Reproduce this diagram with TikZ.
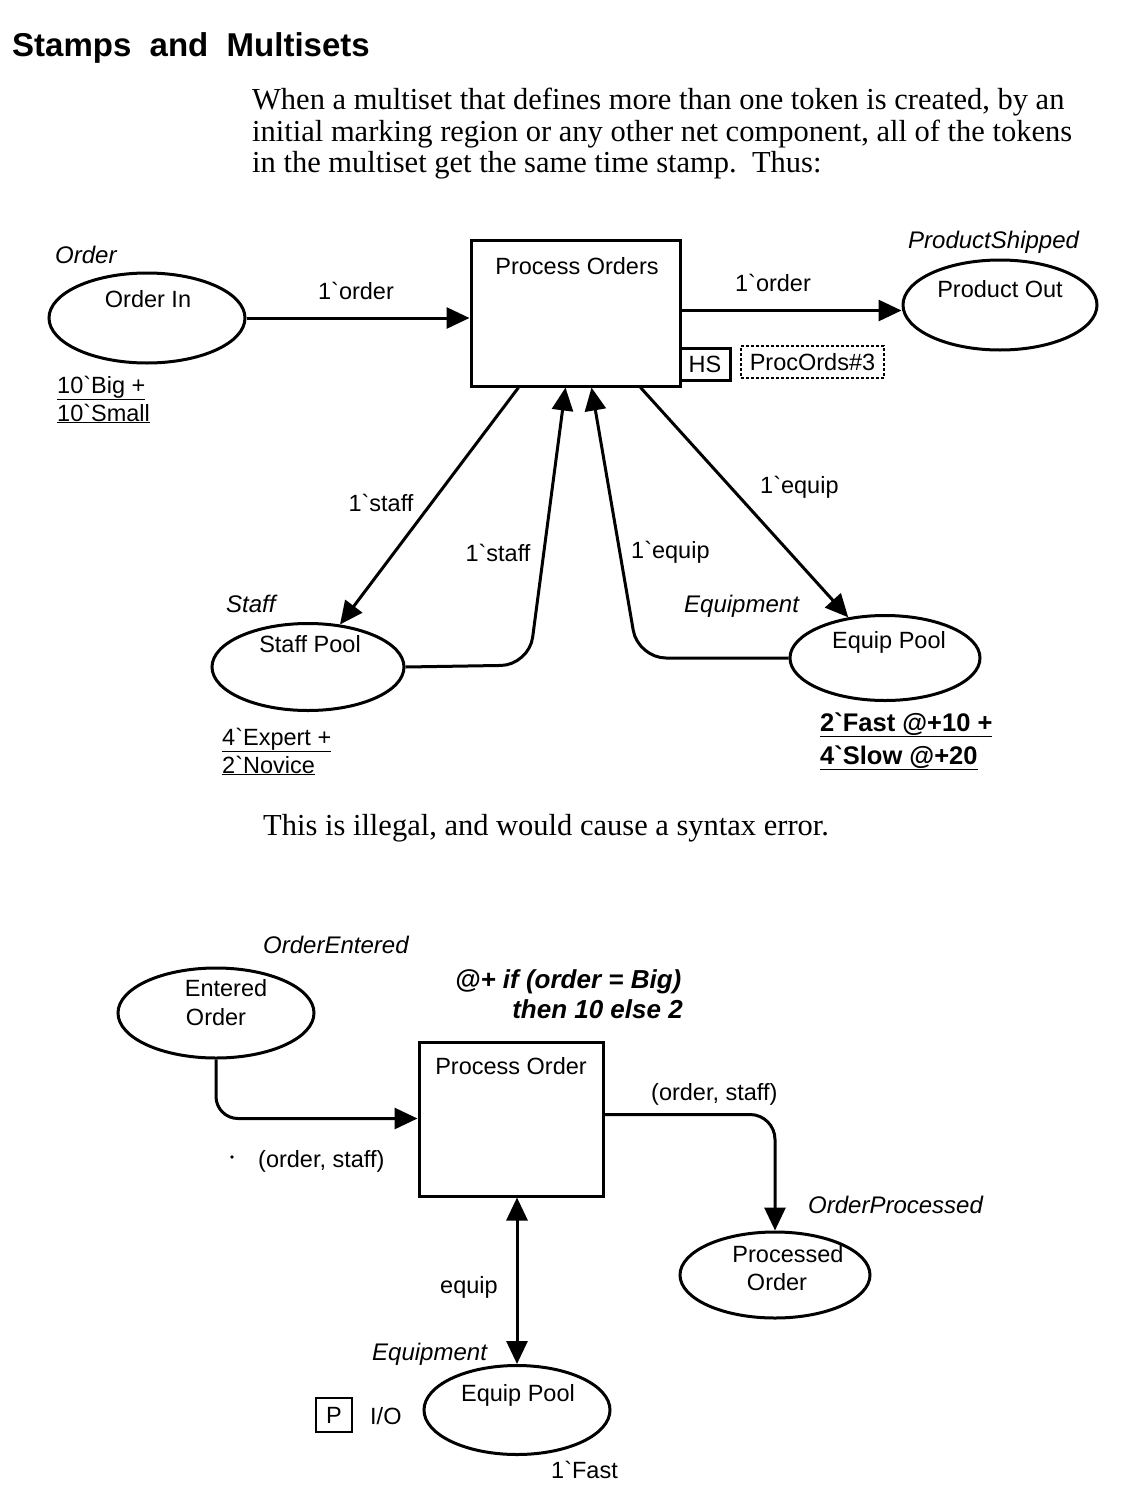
\documentclass[tikz,border=0pt]{standalone}
\usepackage{fontspec}
\setmainfont{Liberation Sans}
\newfontfamily\parafont{Liberation Serif}
\usetikzlibrary{arrows.meta,shapes.geometric,calc}
\newcommand{\bq}{\textasciigrave}
\begin{document}
\begin{tikzpicture}[x=1pt,y=1pt,
  lw/.style={line width=3pt},
  place/.style={draw,lw,ellipse,inner sep=0pt},
  trans/.style={draw,lw,rectangle,inner sep=0pt},
  tx/.style={inner sep=0pt,font=\fontsize{23.5}{28}\selectfont},
  itx/.style={inner sep=0pt,font=\itshape\fontsize{24}{28}\selectfont},
  btx/.style={inner sep=0pt,font=\bfseries\fontsize{25.5}{30}\selectfont},
  bitx/.style={inner sep=0pt,font=\bfseries\itshape\fontsize{26}{30}\selectfont},
  ptx/.style={inner sep=0pt,font=\parafont\fontsize{30.5}{36}\selectfont},
  arc/.style={lw,-{Triangle[length=23pt,width=21pt]}},
  darc/.style={lw,{Triangle[length=23pt,width=21pt]}-{Triangle[length=23pt,width=21pt]}}
]
\useasboundingbox (0,0) rectangle (1120,-1502);

% title and text
\node[anchor=base west,inner sep=0pt,font=\bfseries\fontsize{33}{40}\selectfont] (title) at (12,-56) {Stamps\ \ and\ \ Multisets};
\node[ptx,anchor=base west] (p1) at (252,-109) {When a multiset that defines more than one token is created, by an};
\node[ptx,anchor=base west] (p2) at (252,-141) {initial marking region or any other net component, all of the tokens};
\node[ptx,anchor=base west] (p3) at (252,-172) {in the multiset get the same time stamp.\ \ Thus:};
\node[ptx,anchor=base west] (p4) at (263,-835) {This is illegal, and would cause a syntax error.};

% ---------------- upper net ----------------
\node[place,minimum width=196,minimum height=90] (oi) at (147,-318) {};
\node[place,minimum width=194,minimum height=90] (pout) at (1000,-305) {};
\node[place,minimum width=192,minimum height=87] (sp) at (308,-667) {};
\node[place,minimum width=190,minimum height=85] (ep) at (885,-658) {};
\node[trans,minimum width=209,minimum height=146] (po) at (575.5,-313) {};
\node[draw,lw,inner sep=0pt,minimum width=50,minimum height=32,tx] (hs) at (705,-364) {HS};
\node[draw,line width=1.8pt,dash pattern=on 3pt off 2pt,inner sep=0pt,minimum width=143,minimum height=32,tx] (pc) at (812.5,-362) {ProcOrds\#3};

\node[tx,anchor=base] (tpo) at (577,-274) {Process Orders};
\node[tx,anchor=base] (toi) at (148,-307) {Order In};
\node[tx,anchor=base] (tpout) at (1000,-297) {Product Out};
\node[tx,anchor=base] (tsp) at (310,-652) {Staff Pool};
\node[tx,anchor=base] (tep) at (889,-648) {Equip Pool};

\node[itx,anchor=base west] (lo) at (55,-263) {Order};
\node[itx,anchor=base west] (lps) at (908,-248) {ProductShipped};
\node[itx,anchor=base west] (lst) at (226,-612) {Staff};
\node[itx,anchor=base west] (leq) at (684,-612) {Equipment};

\node[tx,anchor=base west] (m1) at (57,-393) {\underline{10\bq Big +}};
\node[tx,anchor=base west] (m2) at (57,-421) {\underline{10\bq Small}};
\node[tx,anchor=base west] (m3) at (222,-745) {\underline{4\bq Expert +}};
\node[tx,anchor=base west] (m4) at (222,-773) {\underline{2\bq Novice}};
\node[btx,anchor=base west] (m5) at (820,-731) {\underline{2\bq Fast @+10 +}};
\node[btx,anchor=base west] (m6) at (820,-764) {\underline{4\bq Slow @+20}};

\draw[arc] (oi.east) -- (oi.east -| po.west);
\coordinate (a2) at ($(po.north east)+(0,-72)$);
\draw[arc] (a2) -- (a2 -| pout.west);
\draw[arc] ($(po.south west)+(49,0)$) -- (sp);
\draw[arc,rounded corners=28pt] (sp.east) -- (529,-665) -- ($(po.south west)+(96,0)$);
\draw[arc,rounded corners=28pt] (ep.west) -- (638,-658) -- ($(po.south west)+(122,0)$);
\draw[arc] ($(po.south west)+(171,0)$) -- (ep);

\node[tx,anchor=base] (e1) at (356,-299) {1\bq order};
\node[tx,anchor=base] (e2) at (773,-291) {1\bq order};
\node[tx,anchor=base] (e3) at (381,-511) {1\bq staff};
\node[tx,anchor=base] (e4) at (498,-561) {1\bq staff};
\node[tx,anchor=base west] (e5) at (631,-558) {1\bq equip};
\node[tx,anchor=base west] (e6) at (760,-493) {1\bq equip};

% ---------------- lower net ----------------
\node[place,minimum width=196,minimum height=90] (eo) at (216,-1013) {};
\node[trans,minimum width=184,minimum height=154] (po2) at (511,-1119) {};
\node[place,minimum width=190,minimum height=86] (pro) at (775,-1275) {};
\node[place,minimum width=186,minimum height=89] (ep2) at (517,-1410) {};
\node[draw,line width=2.4pt,inner sep=0pt,minimum width=36,minimum height=34,tx] (pb) at (334,-1415) {P};

\node[tx,anchor=base] (teo1) at (226,-996) {Entered};
\node[tx,anchor=base] (teo2) at (216,-1025) {Order};
\node[tx,anchor=base] (tpo2) at (511,-1074) {Process Order};
\node[tx,anchor=base] (tpr1) at (788,-1262) {Processed};
\node[tx,anchor=base] (tpr2) at (777,-1290) {Order};
\node[tx,anchor=base] (tep2) at (518,-1401) {Equip Pool};

\node[itx,anchor=base west] (loe) at (263,-953) {OrderEntered};
\node[itx,anchor=base west] (lop) at (808,-1213) {OrderProcessed};
\node[itx,anchor=base west] (leq2) at (372,-1360) {Equipment};
\node[bitx,anchor=base west] (tm1) at (455,-988) {@+ if (order = Big)};
\node[bitx,anchor=base east] (tm2) at (683,-1018) {then 10 else 2};
\node[tx,anchor=base west] (io) at (370,-1424) {I/O};
\node[tx,anchor=base west] (m7) at (551,-1478) {1\bq Fast};

\coordinate (b1) at ($(po2.north west)+(0,-78)$);
\draw[arc,rounded corners=22pt] (eo.south) -- (eo.south |- b1) -- (b1);
\coordinate (b2) at ($(po2.north east)+(0,-74)$);
\draw[arc,rounded corners=25pt] (b2) -- (b2 -| pro.north) -- (pro.north);
\draw[darc] (ep2.north) -- (ep2.north |- po2.south);

\node[tx,anchor=base west] (f1) at (258,-1167) {(order, staff)};
\fill (232,-1157) circle (1.8);
\node[tx,anchor=base west] (f2) at (651,-1100) {(order, staff)};
\node[tx,anchor=base west] (f3) at (440,-1293) {equip};
\end{tikzpicture}
\end{document}
